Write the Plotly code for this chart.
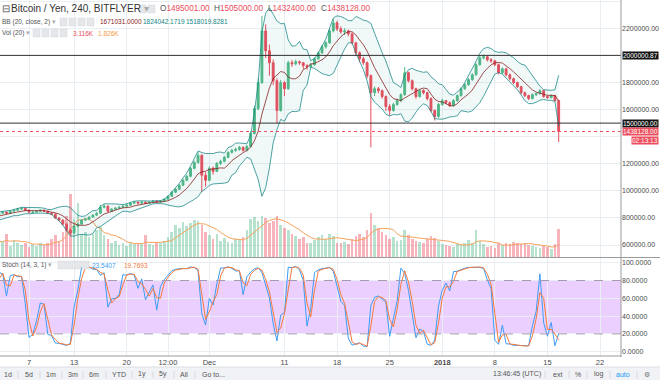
import pandas as pd
import plotly.graph_objects as go

# ---------------- data (prices in thousands of JPY, 12h bars) ----------------
start_time = "2017-10-31 00:00"

open_k = [780, 790, 805, 800, 815, 830, 822,
          835, 843, 835, 850, 857, 865, 872, 857, 840, 843,
          850, 857, 850, 835, 828, 799, 784, 754, 710, 688,
          740, 754, 784, 791, 806, 821, 835, 879, 887, 850,
          865, 872, 879, 887, 894, 909, 916, 909, 916, 909,
          916, 924, 916, 924, 938, 960, 990, 1012, 1041, 1078,
          1107, 1166, 1210, 1262, 1115, 1078, 1166, 1144, 1203, 1218,
          1247, 1284, 1299, 1306, 1321, 1299, 1328, 1424, 1607, 1799,
          2181, 2034, 1946, 1813, 1593, 1799, 1754, 1946, 1938, 1953,
          1946, 1924, 1916, 1931, 1975, 2019, 2063, 2093, 2181, 2240,
          2196, 2174, 2181, 2159, 2093, 2019, 1975, 1946, 1850, 1725,
          1754, 1740, 1696, 1622, 1593, 1637, 1666, 1710, 1872, 1813,
          1754, 1696, 1740, 1725, 1681, 1593, 1549, 1637, 1666, 1651,
          1629, 1666, 1703, 1754, 1784, 1821, 1857, 1931, 1982, 1990,
          1968, 1960, 1931, 1872, 1901, 1857, 1828, 1799, 1769, 1725,
          1703, 1681, 1710, 1718, 1740, 1696, 1688, 1703, 1666]

high_k = [798, 812, 810, 822, 836, 834, 840,
          850, 848, 856, 863, 872, 880, 876, 862, 852, 857,
          864, 861, 854, 842, 832, 806, 790, 760, 722, 748,
          762, 790, 798, 812, 828, 842, 896, 900, 892, 872,
          880, 886, 894, 902, 916, 924, 920, 924, 920, 922,
          932, 928, 930, 946, 968, 998, 1020, 1050, 1088, 1118,
          1175, 1222, 1284, 1270, 1140, 1180, 1180, 1212, 1230, 1258,
          1292, 1310, 1318, 1332, 1328, 1338, 1440, 1630, 1830, 2291,
          2230, 2080, 1970, 1830, 1820, 1810, 1960, 1965, 1968, 1962,
          1950, 1935, 1945, 1985, 2030, 2075, 2105, 2195, 2269, 2255,
          2215, 2200, 2190, 2168, 2100, 2030, 1990, 1955, 1860, 1770,
          1768, 1748, 1705, 1640, 1650, 1680, 1720, 1915, 1880, 1822,
          1762, 1752, 1750, 1732, 1690, 1600, 1650, 1680, 1672, 1660,
          1678, 1712, 1765, 1795, 1832, 1868, 1942, 1995, 2005, 1998,
          1980, 1966, 1940, 1912, 1908, 1866, 1836, 1808, 1776, 1732,
          1710, 1720, 1728, 1750, 1745, 1705, 1712, 1710, 1672]

low_k = [772, 784, 792, 796, 810, 815, 818,
         828, 828, 830, 845, 851, 860, 850, 836, 834, 838,
         845, 843, 828, 820, 792, 776, 745, 700, 673, 684,
         732, 748, 776, 785, 800, 814, 830, 870, 842, 845,
         858, 866, 872, 880, 888, 902, 900, 904, 902, 904,
         910, 910, 912, 918, 932, 955, 982, 1005, 1035, 1070,
         1100, 1158, 1200, 990, 1030, 1070, 1120, 1138, 1190, 1210,
         1240, 1275, 1288, 1296, 1290, 1292, 1320, 1415, 1595, 1790,
         1980, 1850, 1780, 1497, 1585, 1700, 1745, 1915, 1925, 1930,
         1900, 1895, 1908, 1925, 1968, 2010, 2050, 2085, 2170, 2180,
         2160, 2150, 2140, 2080, 2000, 1950, 1930, 1830, 1321, 1700,
         1720, 1680, 1590, 1556, 1585, 1628, 1655, 1702, 1800, 1740,
         1680, 1688, 1712, 1668, 1580, 1519, 1540, 1628, 1640, 1618,
         1622, 1658, 1695, 1745, 1775, 1812, 1850, 1925, 1970, 1955,
         1945, 1920, 1860, 1862, 1845, 1815, 1788, 1758, 1712, 1692,
         1670, 1675, 1700, 1710, 1688, 1680, 1682, 1660, 1360]

close_k = [790, 805, 800, 815, 830, 822, 835,
           843, 835, 850, 857, 865, 872, 857, 843, 843, 850,
           857, 850, 835, 828, 799, 784, 754, 710, 688, 740,
           754, 784, 791, 806, 821, 835, 879, 887, 850, 865,
           872, 879, 887, 894, 909, 916, 909, 916, 909, 916,
           924, 916, 924, 938, 960, 990, 1012, 1041, 1078, 1107,
           1166, 1210, 1262, 1115, 1078, 1166, 1144, 1203, 1218, 1247,
           1284, 1299, 1306, 1321, 1299, 1328, 1424, 1607, 1799, 2181,
           2034, 1946, 1813, 1593, 1799, 1754, 1946, 1938, 1953, 1946,
           1924, 1916, 1931, 1975, 2019, 2063, 2093, 2181, 2240, 2196,
           2174, 2181, 2159, 2093, 2019, 1975, 1946, 1850, 1725, 1754,
           1740, 1696, 1622, 1593, 1637, 1666, 1710, 1872, 1813, 1754,
           1696, 1740, 1725, 1681, 1593, 1549, 1637, 1666, 1651, 1629,
           1666, 1703, 1754, 1784, 1821, 1857, 1931, 1982, 1990, 1968,
           1960, 1931, 1872, 1901, 1857, 1828, 1799, 1769, 1725, 1703,
           1681, 1710, 1718, 1740, 1696, 1688, 1703, 1666, 1438.128]

volume_k = [1.8, 1.5, 2.0, 1.6, 1.4, 1.9, 1.7,
            1.8, 2.6, 1.2, 1.9, 1.5,
            1.3, 1.6, 1.1, 1.4, 1.2, 1.5, 1.3, 1.6,
            2.0, 2.4, 1.8,
            2.8, 4.5, 7.0,
            4.2, 6.0,
            2.5, 2.8, 2.2,
            2.6, 3.0, 3.3, 2.4, 2.0,
            1.5, 1.8, 1.3, 1.6, 1.2, 1.7, 1.4, 1.5,
            1.6, 2.4, 1.4, 1.3, 1.7, 1.5,
            1.8, 2.2, 2.8,
            3.6, 3.2, 3.9, 3.4, 3.8, 4.1, 4.0,
            3.5, 2.8, 2.4, 2.0, 2.6,
            1.8, 2.1, 1.7, 1.6, 2.0, 1.9, 2.2,
            3.0, 4.2, 4.4, 4.0, 4.6,
            4.3, 3.8, 4.0, 4.5, 3.6,
            3.2, 3.0, 2.6, 2.3, 2.0,
            2.2, 1.6, 1.5, 1.9, 2.2, 2.4, 2.0, 2.6, 2.3,
            1.6, 1.5, 1.7, 1.4, 2.0, 2.3, 2.6, 2.2,
            3.0, 4.9, 3.6, 3.2,
            2.8, 2.4, 2.0, 2.2, 1.8, 1.9,
            3.0, 2.4, 2.0, 1.8,
            1.7, 1.6, 2.0, 2.3, 2.1, 1.8, 1.4, 1.3,
            1.2, 1.1, 1.4, 1.3, 1.5,
            1.9, 1.6, 3.0, 1.8, 1.4,
            1.1, 1.2, 1.0, 1.5, 1.3, 1.6, 1.4,
            1.7, 1.5, 1.4, 1.6, 1.3, 1.2, 1.1,
            1.0, 1.2, 1.1, 0.9, 1.4,
            3.116]

price_ticks = [600000, 800000, 1000000, 1200000, 1400000, 1600000,
               1800000, 2000000, 2200000, 2400000]
price_tick_hidden = [1400000, 2000000]   # covered by the level boxes in the reference
stoch_ticks = [0, 20, 40, 60, 80, 100]
date_ticks = ["2017-11-07", "2017-11-13", "2017-11-20", "2017-11-25 12:00",
              "2017-12-01", "2017-12-11", "2017-12-18", "2017-12-25",
              "2018-01-01", "2018-01-08", "2018-01-15", "2018-01-22"]
date_labels = ["7", "13", "20", "12:00", "Dec", "11", "18", "25",
               "<b>2018</b>", "8", "15", "22"]
level_lines = [2000000.87, 1500000.0]
last_price = 1438128.0

# ---------------- derived series ----------------
dates = pd.date_range(start_time, periods=len(close_k), freq="12h")
O = pd.Series(open_k) * 1000
H = pd.Series(high_k) * 1000
L = pd.Series(low_k) * 1000
C = pd.Series(close_k) * 1000
V = pd.Series(volume_k)

bb_mid = C.rolling(7).mean()
bb_sd = C.rolling(7).std(ddof=0)
bb_up = bb_mid + 2 * bb_sd
bb_lo = bb_mid - 2 * bb_sd
vol_ma = V.rolling(7).mean()
ll = L.rolling(5).min()
hh = H.rolling(5).max()
st_k = 100 * (C - ll) / (hh - ll)
st_d = st_k.rolling(2).mean()

UP, DN = "#53b987", "#eb4d5c"
vol_colors = ["rgba(83,185,135,0.42)" if c >= o else "rgba(235,77,92,0.42)"
              for o, c in zip(O, C)]

W, HT = 660, 380
AX_R = 621  # px right edge of plotting area
def px(x): return x / W
def py(y): return 1 - y / HT

fig = go.Figure()
fig.add_trace(go.Bar(x=dates, y=V, marker=dict(color=vol_colors, line=dict(width=0)),
                     width=12 * 3600 * 1000 * 0.7, xaxis="x", yaxis="y"))
fig.add_trace(go.Scatter(x=dates, y=vol_ma, mode="lines",
                         line=dict(color="#f7a35c", width=1), xaxis="x", yaxis="y"))
fig.add_trace(go.Scatter(x=dates, y=bb_up, mode="lines",
                         line=dict(color="rgba(19,132,132,0.75)", width=1),
                         xaxis="x", yaxis="y3"))
fig.add_trace(go.Scatter(x=dates, y=bb_lo, mode="lines", fill="tonexty",
                         fillcolor="rgba(19,132,132,0.06)",
                         line=dict(color="rgba(19,132,132,0.75)", width=1),
                         xaxis="x", yaxis="y3"))
fig.add_trace(go.Scatter(x=dates, y=bb_mid, mode="lines",
                         line=dict(color="rgba(135,35,35,0.8)", width=1),
                         xaxis="x", yaxis="y3"))
fig.add_trace(go.Candlestick(x=dates, open=O, high=H, low=L, close=C,
                             increasing=dict(line=dict(color=UP, width=1), fillcolor=UP),
                             decreasing=dict(line=dict(color=DN, width=1), fillcolor=DN),
                             whiskerwidth=0, xaxis="x", yaxis="y3"))
fig.add_trace(go.Scatter(x=dates, y=st_k, mode="lines",
                         line=dict(color="#3d9cf5", width=1), xaxis="x", yaxis="y2"))
fig.add_trace(go.Scatter(x=dates, y=st_d, mode="lines",
                         line=dict(color="#f5793b", width=1), xaxis="x", yaxis="y2"))

grid = "#e9eef3"
axis_font = dict(size=7, color="#4a4a4a")

shapes = []
# stochastic band
shapes.append(dict(type="rect", xref="paper", yref="y2", x0=0, x1=px(AX_R), y0=20, y1=80,
                   fillcolor="rgba(153,21,255,0.2)", line=dict(width=0), layer="below"))
for lv in (20, 80):
    shapes.append(dict(type="line", xref="paper", yref="y2", x0=0, x1=px(AX_R), y0=lv, y1=lv,
                       line=dict(color="#a59bb0", width=1, dash="dash")))
# horizontal levels
for lv in level_lines:
    shapes.append(dict(type="line", xref="paper", yref="y3", x0=0, x1=px(AX_R), y0=lv, y1=lv,
                       line=dict(color="#333333", width=1)))
shapes.append(dict(type="line", xref="paper", yref="y3", x0=0, x1=px(AX_R), y0=last_price,
                   y1=last_price, line=dict(color="#eb4d5c", width=1, dash="dot")))
# pane borders
shapes.append(dict(type="line", xref="paper", yref="paper", x0=0, x1=1, y0=py(257.5), y1=py(257.5),
                   line=dict(color="#9a9a9a", width=1)))
shapes.append(dict(type="line", xref="paper", yref="paper", x0=0, x1=px(AX_R), y0=py(356), y1=py(356),
                   line=dict(color="#9a9a9a", width=1)))
shapes.append(dict(type="line", xref="paper", yref="paper", x0=px(AX_R), x1=px(AX_R), y0=py(0), y1=py(357),
                   line=dict(color="#9a9a9a", width=1)))
# bottom toolbar
shapes.append(dict(type="rect", xref="paper", yref="paper", x0=0, x1=1, y0=py(380), y1=py(367),
                   fillcolor="#f0f2f5", line=dict(width=0)))
shapes.append(dict(type="line", xref="paper", yref="paper", x0=0, x1=1, y0=py(367), y1=py(367),
                   line=dict(color="#dcdfe4", width=1)))
# legend icon boxes
def icon_boxes(xs, y0, y1, w):
    for x0 in xs:
        shapes.append(dict(type="rect", xref="paper", yref="paper", x0=px(x0), x1=px(x0 + w),
                           y0=py(y1), y1=py(y0), fillcolor="#e6e7ea",
                           line=dict(color="#d2d4d8", width=0.5)))
icon_boxes([139, 148], 5, 13, 7)
icon_boxes([60, 69, 78, 87], 18, 26, 7)
icon_boxes([33, 42, 51, 60], 29, 37, 7)
icon_boxes([58, 66, 74, 82], 261, 269, 7)

ann = []
def txt(x, y, s, color="#555555", size=7, anchor="left", **kw):
    d = dict(x=px(x), y=py(y), xref="paper", yref="paper", text=s, showarrow=False,
             xanchor=anchor, yanchor="middle", font=dict(size=size, color=color))
    d.update(kw)
    ann.append(d)

red = "#eb4d5c"
txt(0, 9, "⊟", "#555555", 9.5)
txt(9, 9, "Bitcoin / Yen, 240, BITFLYER <span style='color:#aaa'>▾</span>", "#333333", 10)
for x, lab, val in [(158, "O", "1495001.00"), (212, "H", "1505000.00"),
                    (266, "L", "1432400.00"), (319, "C", "1438128.00")]:
    txt(x, 9, f"{lab}<span style='color:{red}'>{val}</span>", "#555555", 8.2)
txt(0, 22, "BB (20, close, 2) <span style='color:#aaa'>▾</span>", "#555555", 6.5)
txt(98, 22, "1671031.0000", "#872323", 6.5)
txt(141, 22, "1824042.1719", "#138484", 6.5)
txt(184, 22, "1518019.8281", "#138484", 6.5)
txt(0, 33, "Vol (20) <span style='color:#aaa'>▾</span>", "#555555", 6.5)
txt(71, 33, "3.116K", red, 6.5)
txt(96, 33, "1.826K", "#f59b42", 6.5)
txt(0, 265, "Stoch (14, 3, 1) <span style='color:#aaa'>▾</span>", "#555555", 6.5)
txt(90, 265, "23.5407", "#3d9cf5", 6.5)
txt(122, 265, "19.7693", "#f5793b", 6.5)

# right axis price boxes
for lv, lab, bg in [(2000000.87, "2000000.87", "#131313"), (1500000.0, "1500000.00", "#131313"),
                    (last_price, "1438128.00", red)]:
    ann.append(dict(x=px(622), y=lv, xref="paper", yref="y3", text=lab, showarrow=False,
                    xanchor="left", yanchor="middle", bgcolor=bg, borderpad=0,
                    font=dict(size=6.5, color="white")))
ann.append(dict(x=px(659), y=py(140), xref="paper", yref="paper", text="02:13:13",
                showarrow=False, xanchor="right", yanchor="middle", bgcolor=red, borderpad=0,
                font=dict(size=6.5, color="white")))

# toolbar text
for x, s in [(8, "1d"), (29, "5d"), (51, "1m"), (73, "3m"), (94, "6m"), (119, "YTD"),
             (142, "1y"), (163, "5y"), (184, "All"), (213, "Go to...")]:
    txt(x, 374, s, "#555555", 7, "center")
for x in [18, 40, 62, 83, 106, 132, 153, 174, 195]:
    txt(x, 374, "|", "#c8ccd2", 7, "center")
for x, s, c in [(517, "13:46:45 (UTC)", "#555555"), (557, "ext", "#555555"), (578, "%", "#555555"),
                (598, "log", "#555555"), (623, "auto", "#2196f3"), (647, "⚙", "#777777")]:
    txt(x, 374, s, c, 7, "center")
for x in [545, 569, 587, 610, 637]:
    txt(x, 374, "|", "#c8ccd2", 7, "center")

fig.update_layout(
    width=W, height=HT, margin=dict(l=0, r=0, t=0, b=0),
    paper_bgcolor="white", plot_bgcolor="white", showlegend=False,
    font=dict(family="Liberation Sans, Arial, sans-serif", size=7, color="#4a4a4a"),
    bargap=0,
    xaxis=dict(domain=[0, px(AX_R)], anchor="y2", type="date",
               range=["2017-11-03 03:21", "2018-01-24 19:00"],
               tickvals=date_ticks, ticktext=date_labels, tickangle=0,
               showgrid=True, gridcolor=grid, gridwidth=1, zeroline=False, showline=False,
               ticks="", tickfont=dict(size=7.5, color="#4a4a4a"),
               rangeslider=dict(visible=False)),
    yaxis=dict(domain=[py(257), 1], anchor="x", range=[0, 28.5], visible=False),
    yaxis3=dict(overlaying="y", anchor="x", side="right", range=[511400, 2409000],
                tickvals=price_ticks,
                ticktext=["" if v in price_tick_hidden else f"{v}.00" for v in price_ticks],
                showgrid=True, gridcolor=grid, zeroline=False, showline=False, ticks="",
                tickfont=axis_font),
    yaxis2=dict(domain=[py(356), py(258)], anchor="x", side="right", range=[-4.83, 105.28],
                tickvals=stoch_ticks, ticktext=[f"{v}.0000" for v in stoch_ticks],
                showgrid=True, gridcolor=grid, zeroline=False, showline=False, ticks="",
                tickfont=axis_font),
    shapes=shapes, annotations=ann,
)

fig.write_html("out.html", config={"displayModeBar": False},
               post_script="document.body.style.margin='0px';"
                           "document.body.style.overflow='hidden';")
